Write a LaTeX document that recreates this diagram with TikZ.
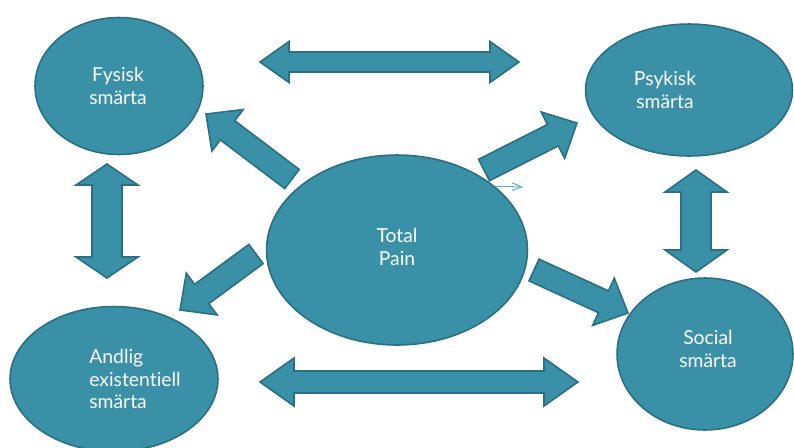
\documentclass[tikz,border=0pt]{standalone}
\usepackage{fontspec}
\setmainfont{Lato}[Ligatures=NoCommon]
\usetikzlibrary{shapes.geometric}
\usetikzlibrary{arrows.meta}
\usetikzlibrary{calc}

\definecolor{painfill}{HTML}{3A90A6}
\definecolor{paindraw}{HTML}{2A6F82}
\definecolor{painthin}{HTML}{62B0C4}

\tikzset{
    bubble/.style={ellipse, draw=paindraw, fill=painfill, line width=0.9pt, inner sep=0pt},
    bubbletext/.style={text=white, font=\fontsize{11}{12.7}\selectfont, inner sep=0pt},
    blockarrow/.style={draw=paindraw, fill=painfill, line width=0.9pt, line join=miter},
    thinarrow/.style={draw=painthin, line width=0.6pt, -{Straight Barb[length=5.5pt,width=4.5pt]}}
}

% #1 tail, #2 tip, #3 half shaft, #4 half head, #5 head length
\newcommand{\painarrow}[5]{
    \coordinate (hb) at ($(#2)!#5!(#1)$);
    \filldraw[blockarrow] ($(#1)!#3!90:(#2)$) -- ($(hb)!#3!90:(#2)$) -- ($(hb)!#4!90:(#2)$) -- (#2)
        -- ($(hb)!#4!-90:(#2)$) -- ($(hb)!#3!-90:(#2)$) -- ($(#1)!#3!-90:(#2)$) -- cycle;
}
\newcommand{\paindouble}[5]{
    \coordinate (hb1) at ($(#1)!#5!(#2)$);
    \coordinate (hb2) at ($(#2)!#5!(#1)$);
    \filldraw[blockarrow] (#1) -- ($(hb1)!#4!90:(#2)$) -- ($(hb1)!#3!90:(#2)$) -- ($(hb2)!#3!90:(#2)$)
        -- ($(hb2)!#4!90:(#2)$) -- (#2) -- ($(hb2)!#4!-90:(#2)$) -- ($(hb2)!#3!-90:(#2)$)
        -- ($(hb1)!#3!-90:(#2)$) -- ($(hb1)!#4!-90:(#2)$) -- cycle;
}

\begin{document}
\begin{tikzpicture}[x=0.02cm, y=-0.02cm]
    \useasboundingbox (0,0) rectangle (794,447);

    \node[bubble, minimum width=3.36cm, minimum height=2.74cm] (fysisk) at (119,86) {};
    \node[bubble, minimum width=4.14cm, minimum height=2.64cm] (psykisk) at (689,90) {};
    \node[bubble, minimum width=5.22cm, minimum height=3.8cm] (total) at (397,250) {};
    \node[bubble, minimum width=4.16cm, minimum height=2.9cm] (andlig) at (114,379) {};
    \node[bubble, minimum width=3.52cm, minimum height=3.04cm] (social) at (705,354) {};

    \node[bubbletext, align=center] (fysisk-t) at (118,86) {Fysisk\\smärta};
    \node[bubbletext, align=center] (psykisk-t) at (665,90) {Psykisk\\smärta};
    \node[bubbletext, align=center] (total-t) at (397,247) {Total\\Pain};
    \node[bubbletext, align=left, anchor=west] (andlig-t) at (89,379) {Andlig\\existentiell\\smärta};
    \node[bubbletext, align=center] (social-t) at (708,349) {Social\\smärta};

    \coordinate (fys-a) at (292,179);  \coordinate (fys-b) at (206,114);
    \coordinate (psy-a) at (484,170);  \coordinate (psy-b) at (577,123);
    \coordinate (and-a) at (256,254);  \coordinate (and-b) at (180,310);
    \coordinate (soc-a) at (534,270);  \coordinate (soc-b) at (628,313);
    \foreach \a/\b in {fys-a/fys-b, psy-a/psy-b, and-a/and-b, soc-a/soc-b} {
        \painarrow{\a}{\b}{0.24cm}{0.52cm}{0.54cm}
    }

    \coordinate (top-a) at (260,62);   \coordinate (top-b) at (519,62);
    \coordinate (bot-a) at (260,382);  \coordinate (bot-b) at (578,382);
    \coordinate (lft-a) at (107,164);  \coordinate (lft-b) at (107,278);
    \coordinate (rgt-a) at (696,170);  \coordinate (rgt-b) at (696,272);
    \paindouble{top-a}{top-b}{0.2cm}{0.41cm}{0.58cm}
    \paindouble{bot-a}{bot-b}{0.22cm}{0.48cm}{0.68cm}
    \paindouble{lft-a}{lft-b}{0.3cm}{0.62cm}{0.42cm}
    \paindouble{rgt-a}{rgt-b}{0.3cm}{0.62cm}{0.44cm}

    \coordinate (stray) at (523,187);
    \draw[thinarrow] (total.33) -- (stray);
\end{tikzpicture}
\end{document}
